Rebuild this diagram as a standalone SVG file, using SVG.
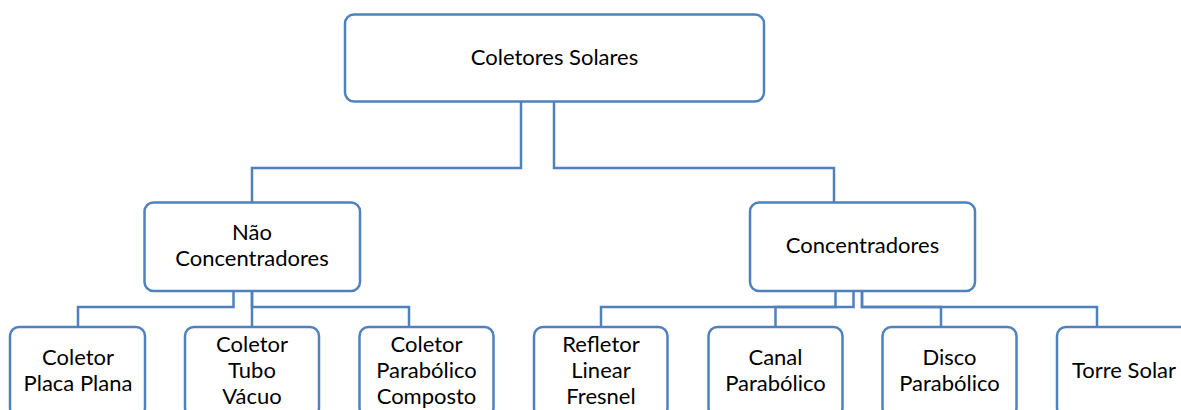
<svg xmlns="http://www.w3.org/2000/svg" width="1181" height="410" viewBox="0 0 1181 410">
<style>
.box{fill:#ffffff;stroke:#4f81bd;stroke-width:2.5}
.con{fill:none;stroke:#4f81bd;stroke-width:2.5}
text{font-family:Lato,"Open Sans",sans-serif;font-size:22px;fill:#000000;text-anchor:middle}
</style>
<rect width="1181" height="410" fill="#ffffff"/>
<g id="connectors">
<path class="con" d="M521,102 V168 H252 V202"/>
<path class="con" d="M554,102 V168 H834 V202"/>
<path class="con" d="M233.5,291 V307 H78 V327"/>
<path class="con" d="M252,291 V327"/>
<path class="con" d="M252,291 V307 H409 V327"/>
<path class="con" d="M835.5,291 V307 H601 V327"/>
<path class="con" d="M853.5,291 V307 H775.5 V327"/>
<path class="con" d="M862,291 V307 H941 V327"/>
<path class="con" d="M862,291 V307 H1097 V327"/>
</g>
<g id="coletores-solares">
<rect class="box" x="345" y="14.5" width="419" height="87" rx="9"/>
<text x="554.5" y="65">Coletores Solares</text>
</g>
<g id="nao-concentradores">
<rect class="box" x="144.5" y="202.5" width="215.5" height="88.5" rx="9"/>
<text x="252" y="240">Não</text>
<text x="252" y="266">Concentradores</text>
</g>
<g id="concentradores">
<rect class="box" x="750" y="202.5" width="225" height="88.5" rx="9"/>
<text x="862.5" y="253">Concentradores</text>
</g>
<g id="coletor-placa-plana">
<rect class="box" x="10" y="327" width="135" height="90" rx="9"/>
<text x="78" y="365">Coletor</text>
<text x="78" y="391">Placa Plana</text>
</g>
<g id="coletor-tubo-vacuo">
<rect class="box" x="185" y="327" width="134" height="90" rx="9"/>
<text x="252" y="352">Coletor</text>
<text x="252" y="378">Tubo</text>
<text x="252" y="404">Vácuo</text>
</g>
<g id="coletor-parabolico-composto">
<rect class="box" x="359.5" y="327" width="134" height="90" rx="9"/>
<text x="426.5" y="352">Coletor</text>
<text x="426.5" y="378">Parabólico</text>
<text x="426.5" y="404">Composto</text>
</g>
<g id="refletor-linear-fresnel">
<rect class="box" x="534" y="327" width="133.5" height="90" rx="9"/>
<text x="601" y="352">Refletor</text>
<text x="601" y="378">Linear</text>
<text x="601" y="404">Fresnel</text>
</g>
<g id="canal-parabolico">
<rect class="box" x="708.5" y="327" width="134" height="90" rx="9"/>
<text x="775.5" y="365">Canal</text>
<text x="775.5" y="391">Parabólico</text>
</g>
<g id="disco-parabolico">
<rect class="box" x="882.5" y="327" width="134" height="90" rx="9"/>
<text x="949.5" y="365">Disco</text>
<text x="949.5" y="391">Parabólico</text>
</g>
<g id="torre-solar">
<rect class="box" x="1057" y="327" width="134" height="90" rx="9"/>
<text x="1124" y="378">Torre Solar</text>
</g>
</svg>
